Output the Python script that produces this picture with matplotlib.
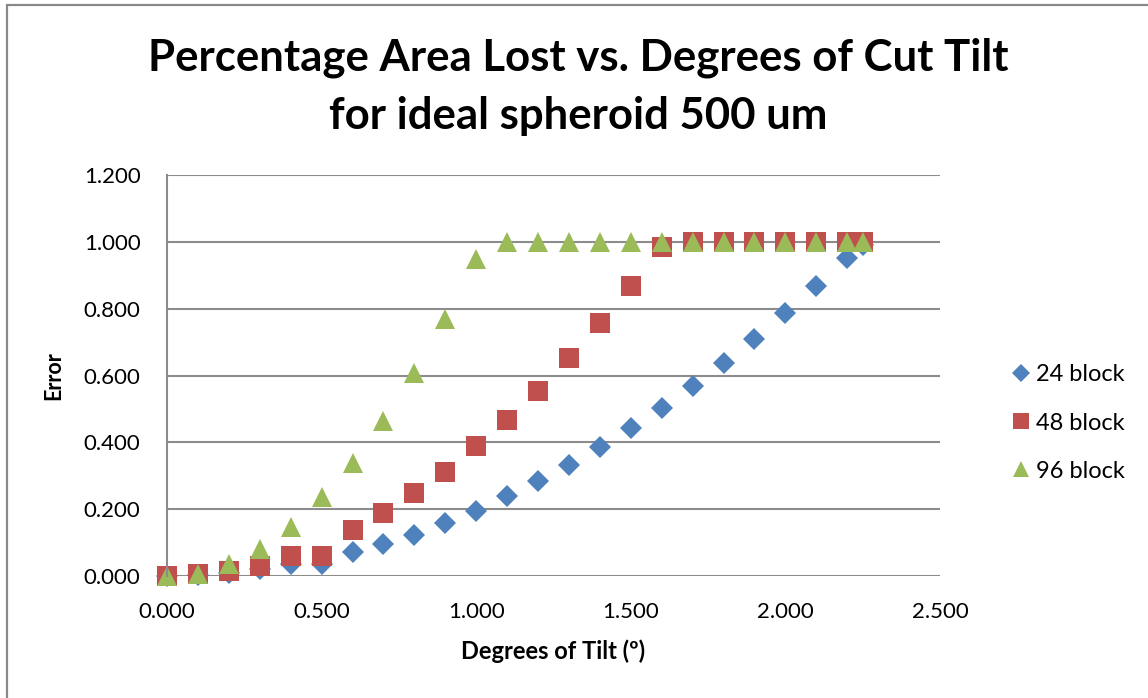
import matplotlib.pyplot as plt
from matplotlib.patches import Rectangle

plt.rcParams['font.family'] = ['Lato', 'DejaVu Sans']

# Tilt in degrees
tilt = [0.0, 0.1, 0.2, 0.3, 0.4, 0.5, 0.6, 0.7, 0.8, 0.9, 1.0, 1.1,
        1.2, 1.3, 1.4, 1.5, 1.6, 1.7, 1.8, 1.9, 2.0, 2.1, 2.2, 2.25]

# Error (fraction of area lost) per block size
err_24 = [0.0, 0.002, 0.01, 0.02, 0.035, 0.035, 0.072, 0.096, 0.124, 0.159,
          0.196, 0.238, 0.283, 0.332, 0.385, 0.442, 0.503, 0.569, 0.638,
          0.709, 0.787, 0.867, 0.952, 0.99]
err_48 = [0.0, 0.005, 0.014, 0.030, 0.060, 0.060, 0.138, 0.189, 0.247, 0.312,
          0.388, 0.466, 0.555, 0.651, 0.756, 0.867, 0.985, 1.0, 1.0, 1.0,
          1.0, 1.0, 1.0, 1.0]
err_96 = [0.0, 0.005, 0.035, 0.080, 0.148, 0.235, 0.338, 0.463, 0.606, 0.768,
          0.948, 1.0, 1.0, 1.0, 1.0, 1.0, 1.0, 1.0, 1.0, 1.0, 1.0, 1.0,
          1.0, 1.0]

series = [("24 block", err_24, "D", 11.5, "#4F81BD"),
          ("48 block", err_48, "s", 14.5, "#C0504D"),
          ("96 block", err_96, "^", 14.5, "#9BBB59")]

fig = plt.figure(figsize=(11.48, 6.98), dpi=100)
ax = fig.add_axes([167 / 1148, 1 - 576 / 698, (940 - 167) / 1148, (576 - 175) / 698])

# outer chart border
fig.patches.append(Rectangle((7 / 1148, -0.1), 1.2, (1 - 5 / 698) + 0.1,
                             transform=fig.transFigure, fill=False,
                             edgecolor="#898989", linewidth=1.6))

for name, vals, mk, ms, col in series:
    ax.plot(tilt, vals, linestyle="none", marker=mk, markersize=ms,
            color=col, markeredgewidth=0, label=name, clip_on=False)

ax.set_xlim(0, 2.5)
ax.set_ylim(0, 1.2)
ax.set_xticks([0, 0.5, 1.0, 1.5, 2.0, 2.5])
ax.set_yticks([0, 0.2, 0.4, 0.6, 0.8, 1.0, 1.2])
ax.set_xticklabels(["%.3f" % v for v in ax.get_xticks()])
ax.set_yticklabels(["%.3f" % v for v in ax.get_yticks()])
ax.tick_params(axis="both", labelsize=16, length=0, pad=19)

ax.grid(axis="y", color="#8C8C8C", linewidth=1.5)
ax.set_axisbelow(True)
for s in ["top", "right", "bottom"]:
    ax.spines[s].set_visible(False)
ax.spines["left"].set_color("#8C8C8C")
ax.spines["left"].set_linewidth(1.5)

ax.set_xlabel("Degrees of Tilt (º)", fontsize=17, fontweight="bold", labelpad=12)
ax.set_ylabel("Error", fontsize=15.5, fontweight="bold", labelpad=14)

fig.text(578 / 1148, 1 - 87 / 698,
         "Percentage Area Lost vs. Degrees of Cut Tilt\nfor ideal spheroid 500 um",
         ha="center", va="center", fontsize=31.5, fontweight="bold",
         linespacing=1.55)

leg = fig.legend(loc="center left", bbox_to_anchor=(986 / 1148, 1 - 423 / 698),
                 frameon=False, fontsize=17, handletextpad=0.0,
                 handlelength=1.2, labelspacing=1.15, markerscale=0.8)

fig.savefig("out.png", dpi=100)
